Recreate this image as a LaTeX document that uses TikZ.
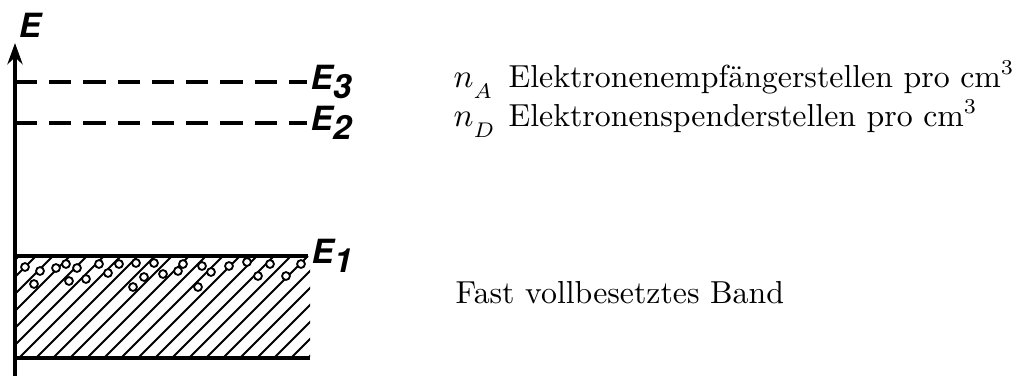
\documentclass[tikz,border=0pt]{standalone}
\usepackage{fontspec}
\newfontfamily\heros{TeX Gyre Heros}
\usetikzlibrary{arrows.meta}
\newcommand{\lowsub}[1]{\lower2.2pt\hbox{$\scriptstyle #1$}}

\begin{document}
\begin{tikzpicture}[x=0.33pt, y=-0.33pt, >={Stealth[length=7pt,width=5pt]},
    level/.style={line width=1.25pt, dash pattern=on 7.3pt off 4pt},
    band/.style={line width=1.35pt},
    hatch/.style={line width=0.6pt},
    elabel/.style={font=\heros\bfseries\itshape\fontsize{11}{12}\selectfont, anchor=west, inner sep=1pt},
    txt/.style={font=\fontsize{10.5}{12}\selectfont, anchor=base west, inner sep=0pt}]
  \useasboundingbox (0,0) rectangle (1015,376);
  % energy axis
  \coordinate (o) at (15,376);
  \coordinate (top) at (15,43);
  \draw[->, line width=1.4pt] (o) -- (top);
  \node[font=\heros\bfseries\itshape\fontsize{11}{12}\selectfont] (E) at (30,25) {E};
  % levels
  \coordinate (a3) at (15,82);
  \coordinate (a2) at (15,123);
  \coordinate (a1) at (15,256);
  \coordinate (a0) at (15,358);
  \coordinate (b0) at (310,358);
  \node[elabel] (e3) at (307,82) {E\lower3pt\hbox{3}};
  \node[elabel] (e2) at (307,123) {E\lower3pt\hbox{2}};
  \node[elabel] (e1) at (308,256) {E\lower3pt\hbox{1}};
  \draw[level] (a3) -- (e3.west);
  \draw[level] (a2) -- (e2.west);
  % nearly full band
  \begin{scope}
    \clip (15,256) rectangle (310,358);
    \foreach \x in {-100,-83,...,310}
      \draw[hatch] (\x,358) -- ++(102,-102);
  \end{scope}
  \draw[band] (a1) -- (e1.west);
  \draw[band] (a0) -- (b0);
  % holes
  \foreach \x/\y in {25/267,40/271,34/284,56/268,66/264,77/268,69/281,86/279,
      99/264,108/273,119/264,136/263,154/263,144/277,133/287,163/274,178/271,
      183/264,202/266,211/272,198/287,229/266,247/262,258/276,270/264,286/276,301/264}
    \draw[hatch, fill=white] (\x,\y) circle[radius=1.3pt];
  % legend
  \node[txt] (nA) at (453,87) {$n_{\lowsub{A}}$};
  \node[txt] (tA) at (508,87) {Elektronenempfängerstellen pro cm$^3$};
  \node[txt] (nD) at (453,126) {$n_{\lowsub{D}}$};
  \node[txt] (tD) at (508,126) {Elektronenspenderstellen pro cm$^3$};
  \node[txt] (fb) at (455,303) {Fast vollbesetztes Band};
\end{tikzpicture}
\end{document}
